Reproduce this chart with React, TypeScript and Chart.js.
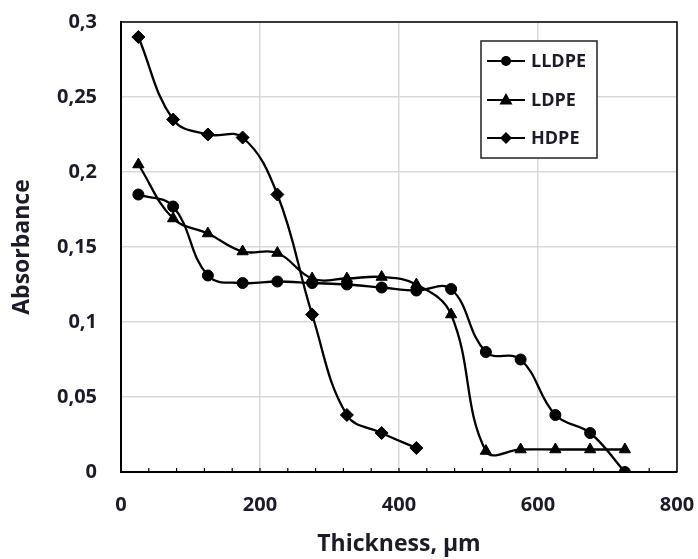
import React, { useEffect, useRef } from "react";
import { Chart, registerables } from "chart.js";

Chart.register(...registerables);

const thickness = [25, 75, 125, 175, 225, 275, 325, 375, 425, 475, 525, 575, 625, 675, 725];
const lldpe = [0.185, 0.177, 0.131, 0.126, 0.127, 0.126, 0.125, 0.123, 0.121, 0.122, 0.08, 0.075, 0.038, 0.026, 0.0];
const ldpe = [0.205, 0.169, 0.159, 0.147, 0.146, 0.129, 0.129, 0.13, 0.125, 0.105, 0.014, 0.015, 0.015, 0.015, 0.015];
const hdpe = [0.29, 0.235, 0.225, 0.223, 0.185, 0.105, 0.038, 0.026, 0.016];

const seriesNames = ["LLDPE", "LDPE", "HDPE"];
const markerStyles = ["circle", "triangle", "rectRot"];
const xTicks = [0, 200, 400, 600, 800];
const yTickLabels = ["0", "0,05", "0,1", "0,15", "0,2", "0,25", "0,3"];

const FONT = "'Open Sans', 'Noto Sans', sans-serif";
const TEXT = "#1c1c28";

const toPts = (vals: number[]) => vals.map((v, i) => ({ x: thickness[i], y: v }));

const framePlugin = {
  id: "frame",
  afterDraw(chart: any) {
    const { ctx, chartArea, scales } = chart;
    const xs = scales.x;
    ctx.save();
    ctx.strokeStyle = "#000";
    ctx.lineWidth = 1.5;
    ctx.beginPath();
    ctx.moveTo(chartArea.left, chartArea.top);
    ctx.lineTo(chartArea.right, chartArea.top);
    ctx.lineTo(chartArea.right, chartArea.bottom);
    ctx.stroke();
    ctx.lineWidth = 1.2;
    for (let v = 40; v < 800; v += 40) {
      const px = xs.getPixelForValue(v);
      ctx.beginPath();
      ctx.moveTo(px, chartArea.bottom);
      ctx.lineTo(px, chartArea.bottom - 4);
      ctx.stroke();
    }
    const bx = 481, by = 41, bw = 116, bh = 117;
    ctx.fillStyle = "#fff";
    ctx.fillRect(bx, by, bw, bh);
    ctx.strokeStyle = "#222";
    ctx.lineWidth = 1.5;
    ctx.strokeRect(bx, by, bw, bh);
    const rows = [61, 100, 138];
    seriesNames.forEach((name, i) => {
      const y = rows[i];
      ctx.strokeStyle = "#000";
      ctx.lineWidth = 2.2;
      ctx.beginPath();
      ctx.moveTo(487, y);
      ctx.lineTo(525, y);
      ctx.stroke();
      ctx.fillStyle = "#000";
      const cx = 506;
      ctx.beginPath();
      if (i === 0) {
        ctx.arc(cx, y, 5, 0, Math.PI * 2);
      } else if (i === 1) {
        ctx.moveTo(cx, y - 7);
        ctx.lineTo(cx + 6.5, y + 4.5);
        ctx.lineTo(cx - 6.5, y + 4.5);
        ctx.closePath();
      } else {
        ctx.moveTo(cx, y - 6);
        ctx.lineTo(cx + 6, y);
        ctx.lineTo(cx, y + 6);
        ctx.lineTo(cx - 6, y);
        ctx.closePath();
      }
      ctx.fill();
      ctx.fillStyle = TEXT;
      ctx.font = `bold 18px ${FONT}`;
      ctx.textBaseline = "middle";
      ctx.textAlign = "left";
      ctx.fillText(name, 531, y + 1);
    });
    ctx.restore();
  },
};

export default function App() {
  const ref = useRef<HTMLCanvasElement | null>(null);
  useEffect(() => {
    if (!ref.current) return;
    const mk = (label: string, data: number[], style: string, r: number) => ({
      label,
      data: toPts(data),
      borderColor: "#000",
      backgroundColor: "#000",
      borderWidth: 2.3,
      pointStyle: style,
      pointRadius: r,
      pointBackgroundColor: "#000",
      pointBorderColor: "#000",
      pointBorderWidth: 1,
      tension: 0.4,
      fill: false,
    });
    const chart = new Chart(ref.current, {
      type: "line",
      data: {
        datasets: [
          mk(seriesNames[0], lldpe, markerStyles[0], 5.5),
          mk(seriesNames[1], ldpe, markerStyles[1], 6.5),
          mk(seriesNames[2], hdpe, markerStyles[2], 6.5),
        ],
      },
      plugins: [framePlugin],
      options: {
        responsive: false,
        animation: false,
        devicePixelRatio: 1,
        layout: { padding: { top: 22, right: 21, left: 0, bottom: 0 } },
        plugins: { legend: { display: false }, tooltip: { enabled: false } },
        scales: {
          x: {
            type: "linear",
            min: 0,
            max: 800,
            afterBuildTicks: (s: any) => {
              s.ticks = xTicks.map((v) => ({ value: v }));
            },
            afterFit: (s: any) => {
              s.height = 87;
              s.paddingLeft = 0;
              s.paddingRight = 0;
            },
            ticks: {
              padding: 21,
              color: TEXT,
              font: { family: FONT, size: 20, weight: "bold" },
              maxRotation: 0,
              callback: (v: any) => String(v),
            },
            grid: { color: "#d9d9d9", lineWidth: 1.5, drawTicks: false },
            border: { color: "#000", width: 2 },
            title: {
              display: true,
              text: "Thickness, µm",
              color: TEXT,
              font: { family: FONT, size: 23, weight: "bold" },
              padding: { top: 0, bottom: 1 },
            },
          },
          y: {
            type: "linear",
            min: 0,
            max: 0.3,
            afterBuildTicks: (s: any) => {
              s.ticks = yTickLabels.map((_, i) => ({ value: i * 0.05 }));
            },
            afterFit: (s: any) => {
              s.width = 121;
              s.paddingTop = 0;
              s.paddingBottom = 0;
            },
            ticks: {
              padding: 24,
              color: TEXT,
              font: { family: FONT, size: 20, weight: "bold" },
              callback: (_v: any, i: number) => yTickLabels[i],
            },
            grid: { color: "#d9d9d9", lineWidth: 1.5, drawTicks: false },
            border: { color: "#000", width: 2 },
            title: {
              display: true,
              text: "Absorbance",
              color: TEXT,
              font: { family: FONT, size: 23, weight: "bold" },
              padding: { top: 9, bottom: 0 },
            },
          },
        },
      } as any,
    });
    return () => chart.destroy();
  }, []);
  return (
    <div style={{ position: "fixed", left: 0, top: 0, width: 698, height: 559, background: "#fff" }}>
      <canvas ref={ref} width={698} height={559} />
    </div>
  );
}
